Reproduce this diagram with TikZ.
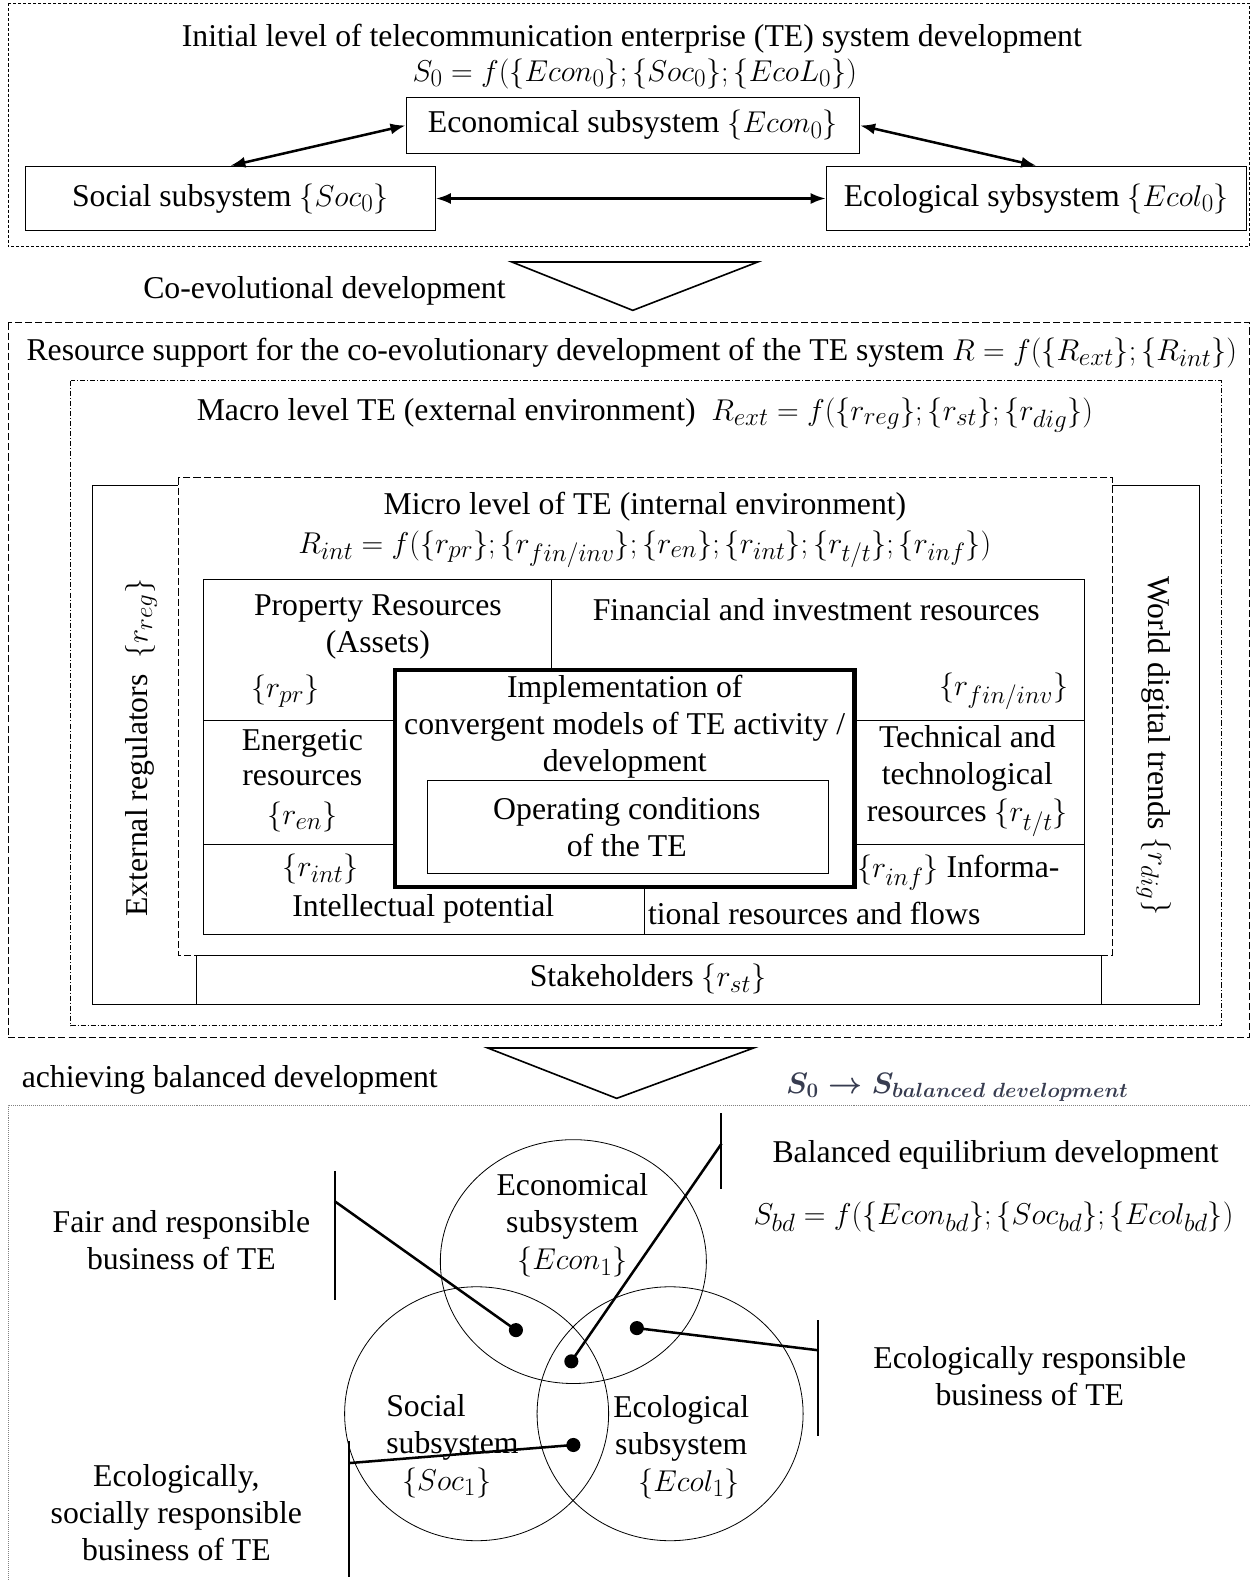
\documentclass[tikz,border=0pt]{standalone}
\usepackage{graphicx}
\usepackage{fontspec}
\setmainfont{Liberation Serif}
\usetikzlibrary{arrows.meta}

% math at the size of the original formulas
\newcommand{\fm}[1]{\scalebox{1.2}{$#1$}}

\tikzset{
  txt/.style={inner sep=0pt, align=center, font=\fontsize{31.5}{36.5}\selectfont},
  sysbox/.style={draw, line width=1pt, inner sep=0pt, font=\fontsize{31.5}{36.5}\selectfont},
  link/.style={line width=2.5pt, {Latex[length=15pt,width=11pt]}-{Latex[length=15pt,width=11pt]}},
  flow/.style={line width=1.6pt, line join=miter},
  frameA/.style={line width=0.8pt, dash pattern=on 3pt off 2pt},
  frameB/.style={line width=0.8pt, dash pattern=on 7pt off 3pt},
  frameC/.style={line width=0.8pt, dash pattern=on 5pt off 2pt on 1pt off 2pt},
  frameD/.style={line width=0.7pt, gray, dash pattern=on 1pt off 1pt},
  grid/.style={line width=1pt},
  pinbar/.style={line width=2pt},
  pinline/.style={line width=2.5pt},
  dotmark/.style={circle, fill, inner sep=0pt, minimum size=14pt}
}

\begin{document}
\begin{tikzpicture}[x=1pt,y=-1pt]
\useasboundingbox (0,0) rectangle (1243,1568);

% initial level
\draw[frameA] (8,3) rectangle (1240,245);
\node[txt] (title0) at (627,38) {Initial level of telecommunication enterprise (TE) system development};
\node[txt] (form0) at (630,73) {\fm{S_0=f(\{Econ_0\};\{Soc_0\};\{EcoL_0\})}};
\node[sysbox, minimum width=450pt, minimum height=55pt] (econ0) at (628,124.5) {Economical subsystem \fm{\{Econ_0\}}};
\node[sysbox, minimum width=407pt, minimum height=64pt] (soc0) at (228.5,197) {Social subsystem \fm{\{Soc_0\}}};
\node[sysbox, minimum width=417pt, minimum height=64pt] (ecol0) at (1028.5,197) {Ecological sybsystem \fm{\{Ecol_0\}}};
\draw[link] (econ0.west) -- (soc0.north);
\draw[link] (econ0.east) -- (ecol0.north);
\draw[link] (soc0.east) -- (ecol0.west);

% transition 1
\draw[flow] (508,260) -- (752,260) -- (628,308) -- cycle;
\node[txt] (coevo) at (322,289) {Co-evolutional development};

% resource support
\draw[frameB] (8,320) rectangle (1240,1030);
\node[txt] (resource) at (627,350) {Resource support for the co-evolutionary development of the TE system\ \fm{R=f(\{R_{ext}\};\{R_{int}\})}};
\draw[frameC] (70,378) rectangle (1212,1018);
\node[txt] (macro) at (640,412) {Macro level TE (external environment)\ \ \fm{R_{ext}=f\bigl(\bigl\{r_{reg}\bigr\};\{r_{st}\};\bigl\{r_{dig}\bigr\}\bigr)}};

% external environment
\draw[grid] (92,482) rectangle (1190,997);
\draw[grid] (195,482) -- (195,997);
\draw[grid] (1093,482) -- (1093,997);
\draw[grid] (195,948) -- (1093,948);
\node[txt, rotate=90] (regul) at (140,742) {External regulators\ \ \fm{\{r_{reg}\}}};
\node[txt, rotate=-90] (digit) at (1145,740) {World digital trends \fm{\{r_{dig}\}}};
\node[txt] (stake) at (643,972) {Stakeholders \fm{\{r_{st}\}}};

% internal environment
\draw[frameB, fill=white] (177,474) rectangle (1104,948);
\node[txt] (micro) at (640,503) {Micro level of TE (internal environment)};
\node[txt] (microf) at (640,545) {\fm{R_{int}=f\bigl(\{r_{pr}\};\{r_{fin/inv}\};\{r_{en}\};\{r_{int}\};\{r_{t/t}\};\{r_{inf}\}\bigr)}};
\draw[grid] (202,575) rectangle (1076,927);
\draw[grid] (547,575) -- (547,665);
\draw[grid] (640,880) -- (640,927);
\draw[grid] (202,715) -- (392,715);
\draw[grid] (848,715) -- (1076,715);
\draw[grid] (202,838) -- (392,838);
\draw[grid] (848,838) -- (1076,838);

\node[txt] (prop) at (375,622) {Property Resources\\(Assets)};
\node[txt] (rpr) at (283,686) {\fm{\{r_{pr}\}}};
\node[txt] (fin) at (810,605) {Financial and investment resources};
\node[txt] (rfin) at (996,686) {\fm{\{r_{fin/inv}\}}};
\node[txt, font=\fontsize{31.5}{34}\selectfont] (energ) at (300,752) {Energetic\\resources};
\node[txt] (ren) at (300,811) {\fm{\{r_{en}\}}};
\node[txt, font=\fontsize{31.5}{37}\selectfont] (techn) at (960,775) {Technical and\\technological\\resources \fm{\{r_{t/t}\}}};
\node[txt] (rint) at (318,862) {\fm{\{r_{int}\}}};
\node[txt] (intel) at (420,902) {Intellectual potential};
\node[txt] (rinf) at (951,866) {\fm{\{r_{inf}\}} Informa-};
\node[txt] (infor) at (808,907) {tional resources and flows};

% convergent models
\draw[line width=4pt, fill=white] (392,665) rectangle (848,880);
\node[txt] (impl) at (620,721) {Implementation of\\convergent models of TE activity /\\development};
\draw[grid] (424,775) rectangle (822,867);
\node[txt] (oper) at (622,821) {Operating conditions\\of the TE};

% transition 2
\draw[flow] (484,1040) -- (748,1040) -- (612,1090) -- cycle;
\node[txt] (achieve) at (228,1072) {achieving balanced development};
\node[txt, text={rgb,255:red,55;green,60;blue,80}, font=\fontsize{25.5}{30}\selectfont\boldmath] (s0sbd) at (950,1079) {\scalebox{1.18}{$S_0\rightarrow S_{balanced\ development}$}};

% balanced development
\draw[frameD] (8,1568) -- (8,1097) -- (1240,1097);
\draw[line width=0.8pt] (569,1252) ellipse [x radius=132, y radius=121];
\draw[line width=0.8pt] (473,1403) ellipse [x radius=131, y radius=126];
\draw[line width=0.8pt] (665,1403) ellipse [x radius=132, y radius=126];

\node[txt] (balanced) at (988,1146) {Balanced equilibrium development};
\node[txt] (sbd) at (986,1208) {\fm{S_{bd}=f(\{Econ_{bd}\};\{Soc_{bd}\};\{Ecol_{bd}\})}};
\node[txt] (fair) at (180,1231) {Fair and responsible\\business of TE};
\node[txt] (econ1) at (568,1216) {Economical\\subsystem\\\fm{\{Econ_1\}}};
\node[txt] (ecoresp) at (1022,1366) {Ecologically responsible\\business of TE};
\node[txt, align=left] (soc1) at (449,1435) {Social\\subsystem\\\ \ \fm{\{Soc_1\}}};
\node[txt] (ecol1) at (676,1436) {Ecological\\subsystem\\\ \ \fm{\{Ecol_1\}}};
\node[txt] (ecosoc) at (175,1501) {Ecologically,\\socially responsible\\business of TE};

\node[dotmark] (dfair) at (512,1320) {};
\node[dotmark] (dbal) at (567,1351) {};
\node[dotmark] (deco) at (632,1318) {};
\node[dotmark] (dsoc) at (569,1434) {};

\coordinate (bfair) at (332,1192);
\coordinate (bbal) at (716,1135);
\coordinate (beco) at (812,1340);
\coordinate (bsoc) at (346,1452);

\draw[pinbar] (332,1162) -- (332,1290);
\draw[pinbar] (716,1105) -- (716,1180);
\draw[pinbar] (812,1310) -- (812,1425);
\draw[pinbar] (346,1430) -- (346,1565);

\draw[pinline] (dfair.center) -- (bfair);
\draw[pinline] (dbal.center) -- (bbal);
\draw[pinline] (deco.center) -- (beco);
\draw[pinline] (dsoc.center) -- (bsoc);
\end{tikzpicture}
\end{document}
